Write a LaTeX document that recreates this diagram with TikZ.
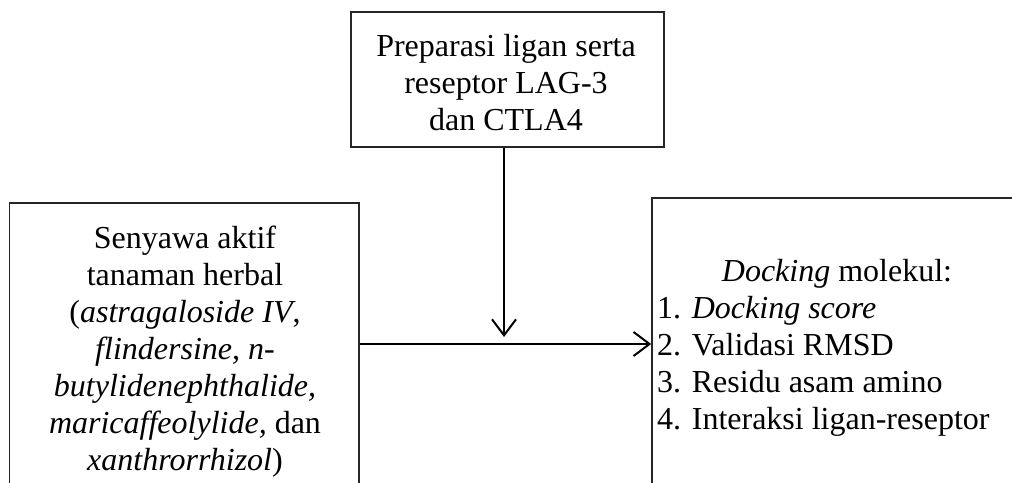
\documentclass[tikz,border=0pt]{standalone}
\usepackage{fontspec}
\setmainfont{Liberation Serif}
\usetikzlibrary{arrows.meta}
\begin{document}
\begin{tikzpicture}[x=1pt,y=-1pt,
  boxst/.style={draw=black!85, line width=1.6pt, inner sep=0pt},
  txt/.style={inner sep=0pt, font=\fontsize{32}{37}\selectfont},
  arr/.style={line width=2pt, -{Straight Barb[length=16pt,width=24pt,line width=2pt]}}]
\clip (0,0) rectangle (1012,482);
% boxes
\node[boxst, minimum width=313pt, minimum height=135pt] (T) at (507.5,79.5) {};
\node[boxst, minimum width=349.5pt, minimum height=337pt] (L) at (184.25,371.5) {};
\node[boxst, minimum width=428pt, minimum height=342pt] (R) at (866,369) {};
% texts
\node[txt, align=center, anchor=north] (Tt) at (506,34) {Preparasi ligan serta\\reseptor LAG-3\\dan CTLA4};
\node[txt, align=center, anchor=north] (Lt) at (185,226) {Senyawa aktif\\tanaman herbal\\(\textit{astragaloside IV},\\\textit{flindersine, n-}\\\textit{butylidenephthalide,}\\\textit{maricaffeolylide,} dan\\\textit{xanthrorrhizol})};
\node[txt, anchor=north] (Rh) at (837,259.5) {\textit{Docking} molekul:};
\node[txt, align=left, anchor=north west] (Rl) at (657,296) {1. \textit{Docking score}\\2. Validasi RMSD\\3. Residu asam amino\\4. Interaksi ligan-reseptor};
% connectors
\coordinate (vt) at (504,337);
\coordinate (hy) at (0,344);
\draw[arr] (T.south -| vt) -- (vt);
\draw[arr] (L.east |- hy) -- (R.west |- hy);
\end{tikzpicture}
\end{document}
